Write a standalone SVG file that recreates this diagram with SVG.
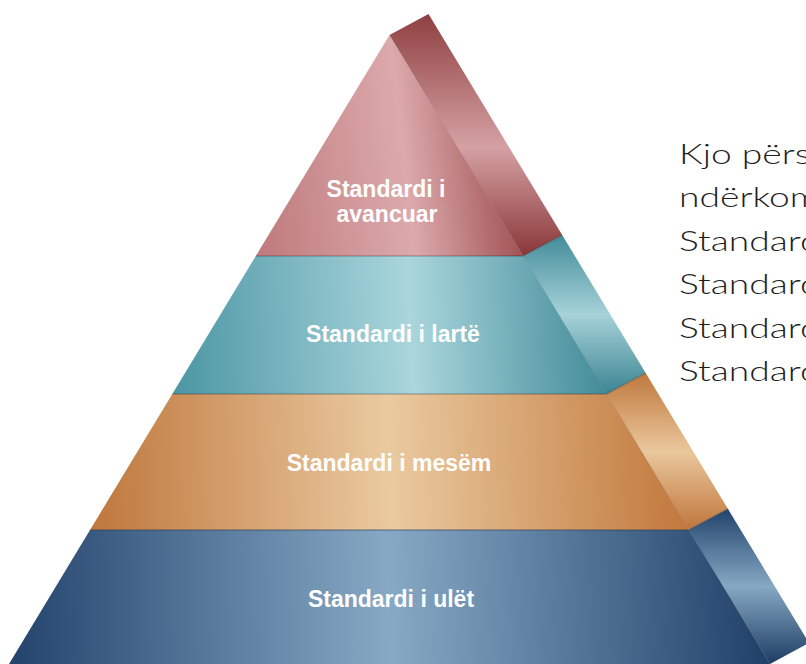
<svg xmlns="http://www.w3.org/2000/svg" width="806" height="664" viewBox="0 0 806 664">
<style>
.lbl{font-family:"Liberation Sans",Arial,sans-serif;font-weight:bold;font-size:23px;fill:#ffffff;text-anchor:middle}
.side-text{font-family:Lato,"Open Sans",sans-serif;font-weight:300;font-size:28px;fill:#1e1e1e}
.div{stroke:#000;stroke-opacity:0.22;stroke-width:1.5;fill:none}
.edge{stroke:#000;stroke-opacity:0.12;stroke-width:1;fill:none}
</style>
<defs>
<linearGradient id="fRed" gradientUnits="userSpaceOnUse" x1="255" y1="160" x2="524" y2="130">
<stop offset="0" stop-color="#c07c7e"/><stop offset="0.55" stop-color="#dcaaac"/><stop offset="1" stop-color="#9a4749"/>
</linearGradient>
<linearGradient id="sRed" x1="0" y1="0" x2="0" y2="1">
<stop offset="0" stop-color="#8f3f41"/><stop offset="0.55" stop-color="#d5a1a3"/><stop offset="1" stop-color="#8a3739"/>
</linearGradient>
<linearGradient id="fTeal" gradientUnits="userSpaceOnUse" x1="172" y1="335" x2="607" y2="315">
<stop offset="0" stop-color="#4c96a4"/><stop offset="0.55" stop-color="#aad6dc"/><stop offset="1" stop-color="#418a98"/>
</linearGradient>
<linearGradient id="sTeal" x1="0" y1="0" x2="0" y2="1">
<stop offset="0" stop-color="#438c9a"/><stop offset="0.5" stop-color="#a6d2d8"/><stop offset="1" stop-color="#3c8492"/>
</linearGradient>
<linearGradient id="fOr" gradientUnits="userSpaceOnUse" x1="90" y1="472" x2="689" y2="452">
<stop offset="0" stop-color="#bf773d"/><stop offset="0.5" stop-color="#eacaa0"/><stop offset="1" stop-color="#c1773b"/>
</linearGradient>
<linearGradient id="sOr" x1="0" y1="0" x2="0" y2="1">
<stop offset="0" stop-color="#c0783e"/><stop offset="0.5" stop-color="#eac79c"/><stop offset="1" stop-color="#bf763c"/>
</linearGradient>
<linearGradient id="fBlue" gradientUnits="userSpaceOnUse" x1="9" y1="607" x2="770" y2="587">
<stop offset="0" stop-color="#23436c"/><stop offset="0.5" stop-color="#87a9c5"/><stop offset="1" stop-color="#203f68"/>
</linearGradient>
<linearGradient id="sBlue" x1="0" y1="0" x2="0" y2="1">
<stop offset="0" stop-color="#22446d"/><stop offset="0.5" stop-color="#86a8c3"/><stop offset="1" stop-color="#1e3d64"/>
</linearGradient>
</defs>
<rect width="806" height="664" fill="#ffffff"/>

<g id="layer-avancuar">
<polygon points="389.5,35 428.5,14 562.2,235 523.2,256" fill="url(#sRed)"/>
<polygon points="389.5,35 523.2,256 255.8,256" fill="url(#fRed)"/>
<line class="edge" x1="389.5" y1="35" x2="523.2" y2="256"/>
<text class="lbl" x="386" y="197">Standardi i</text>
<text class="lbl" x="387" y="222">avancuar</text>
</g>

<g id="layer-larte">
<polygon points="523.2,256 562.2,235 645.7,373 606.7,394" fill="url(#sTeal)"/>
<polygon points="255.8,256 523.2,256 606.7,394 172.3,394" fill="url(#fTeal)"/>
<line class="edge" x1="523.2" y1="256" x2="606.7" y2="394"/>
<text class="lbl" x="393" y="342">Standardi i lartë</text>
</g>

<g id="layer-mesem">
<polygon points="606.7,394 645.7,373 728,509 689,530" fill="url(#sOr)"/>
<polygon points="172.3,394 606.7,394 689,530 90,530" fill="url(#fOr)"/>
<line class="edge" x1="606.7" y1="394" x2="689" y2="530"/>
<text class="lbl" x="389" y="471">Standardi i mesëm</text>
</g>

<g id="layer-ulet">
<polygon points="689,530 728,509 809,643 770,664" fill="url(#sBlue)"/>
<polygon points="90,530 689,530 770,664 9,664" fill="url(#fBlue)"/>
<line class="edge" x1="689" y1="530" x2="770" y2="664"/>
<text class="lbl" x="391" y="607">Standardi i ulët</text>
</g>

<g id="dividers">
<polyline class="div" points="255.8,256 523.2,256 562.2,235"/>
<polyline class="div" points="172.3,394 606.7,394 645.7,373"/>
<polyline class="div" points="90,530 689,530 728,509" style="stroke-opacity:0.45;stroke:#2b3b55"/>
</g>

<g id="description" transform="translate(679,0) scale(1.33,1)">
<text class="side-text" x="0" y="164">Kjo përs</text>
<text class="side-text" x="0" y="207.5">ndërkom</text>
<text class="side-text" x="0" y="251">Standard</text>
<text class="side-text" x="0" y="294.5">Standard</text>
<text class="side-text" x="0" y="338">Standard</text>
<text class="side-text" x="0" y="381.5">Standard</text>
</g>
</svg>
